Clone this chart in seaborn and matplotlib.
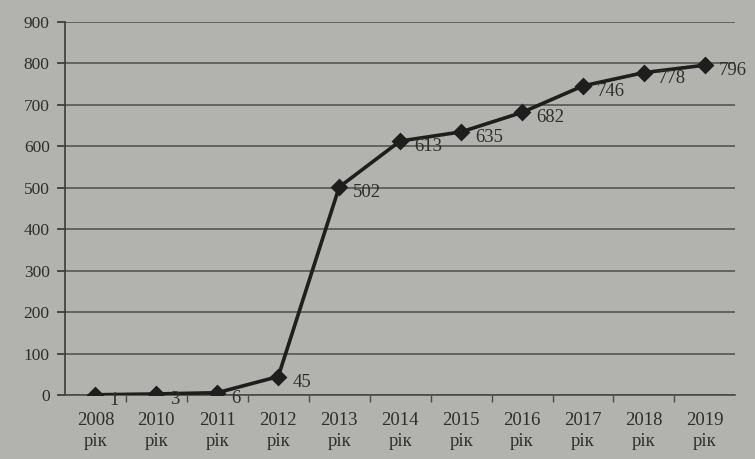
import matplotlib
matplotlib.use("Agg")
import matplotlib.pyplot as plt
import seaborn as sns
import pandas as pd

years = ["2008", "2010", "2011", "2012", "2013", "2014", "2015", "2016", "2017", "2018", "2019"]
values = [1, 3, 6, 45, 502, 613, 635, 682, 746, 778, 796]
yticks = [0, 100, 200, 300, 400, 500, 600, 700, 800, 900]

labels = [f"{y}\nрік" for y in years]
df = pd.DataFrame({"year": labels, "value": values})

sns.set_theme(style="white")
plt.rcParams['font.family'] = ['Liberation Serif', 'DejaVu Serif']

bg = "#b2b3ae"
fig = plt.figure(figsize=(7.55, 4.59), dpi=100, facecolor=bg)
ax = fig.add_axes([0.086, 0.139, 0.888, 0.813])
ax.set_facecolor(bg)

sns.pointplot(data=df, x="year", y="value", color="#1e1e1e", markers="D",
              markersize=7, linewidth=2.6, ax=ax, zorder=3)

for i, v in enumerate(values):
    ax.annotate(str(v), (i, v), xytext=(10, -4), textcoords="offset points",
                ha="left", va="center", fontsize=13.5, color="#2e2e2e", zorder=4)

ax.set_ylim(0, 900)
ax.set_xlim(-0.5, len(years) - 0.5)
ax.set_yticks(yticks)
ax.yaxis.grid(True, color="#555553", linewidth=1.2)
ax.set_axisbelow(True)
ax.set_xlabel("")
ax.set_ylabel("")
for s in ["top", "right"]:
    ax.spines[s].set_visible(False)
ax.spines["left"].set_color("#3a3a38")
ax.spines["bottom"].set_color("#4a4a48")
ax.spines["left"].set_linewidth(1.2)
ax.spines["bottom"].set_linewidth(1.2)

ax.tick_params(axis="y", left=True, length=6, color="#3a3a38", labelsize=12.5,
               labelcolor="#2e2e2e", pad=5)
ax.tick_params(axis="x", bottom=False, labelsize=13.5, labelcolor="#2e2e2e", pad=6)
ax.set_xticks(range(len(years)))
ax.set_xticklabels(labels, linespacing=1.35)
# category boundary ticks
ax.set_xticks([i + 0.5 for i in range(len(years) - 1)], minor=True)
ax.tick_params(axis="x", which="minor", bottom=True, length=5, color="#4a4a48")

fig.savefig("out.png", dpi=100, facecolor=bg)
